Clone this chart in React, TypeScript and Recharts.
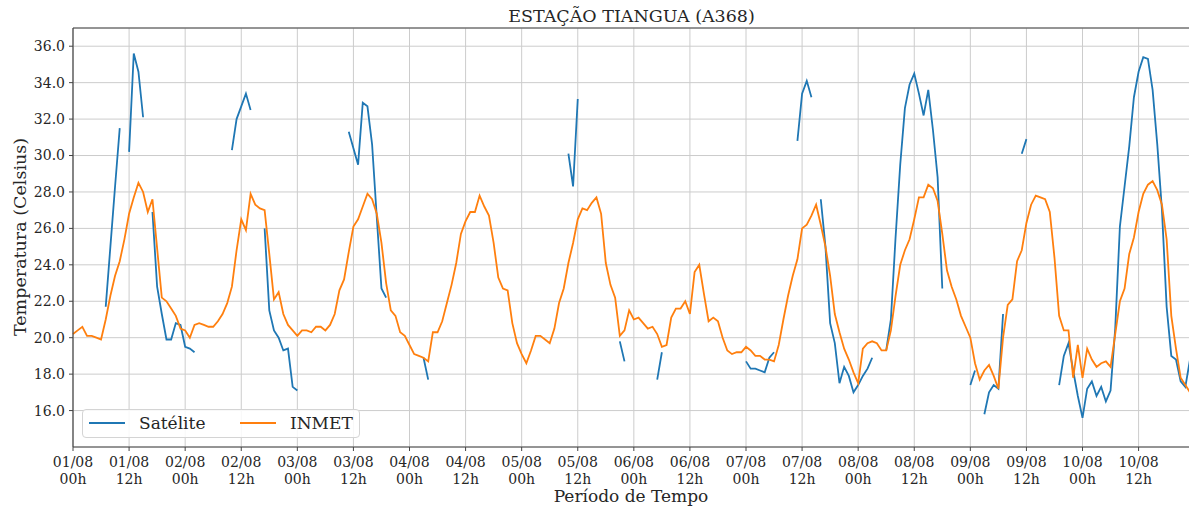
import React from 'react';
import { LineChart, Line, XAxis, YAxis, CartesianGrid } from 'recharts';

// Hourly index from 01/08 00h to 10/08 23h
const horas = Array.from({ length: 240 }, (_, i) => i);

// Satellite estimate (°C), null where there is no retrieval
const satelite = [
  null, null, null, null, null, null, null, 21.7, 25.0, 28.3, 31.5, null,
  30.2, 35.6, 34.6, 32.1, null, 26.9, 22.8, 21.3, 19.9, 19.9, 20.8, 20.7,
  19.5, 19.4, 19.2, null, null, null, null, null, null, null, 30.3, 32.0,
  32.7, 33.4, 32.5, null, null, 26.0, 21.5, 20.4, 20.0, 19.3, 19.4, 17.3,
  17.1, null, null, null, null, null, null, null, null, null, null, 31.3,
  30.4, 29.5, 32.9, 32.7, 30.6, 26.6, 22.7, 22.2, null, null, null, null,
  null, null, null, 18.9, 17.7, null, null, null, null, null, null, null,
  null, null, null, null, null, null, null, null, null, null, null, null,
  null, null, null, null, null, null, null, null, null, null, 30.1, 28.3,
  33.1, null, null, null, null, null, null, null, null, 19.8, 18.7, null,
  null, null, null, null, null, 17.7, 19.2, null, null, null, null, null,
  null, null, null, null, null, null, null, null, null, null, null, null,
  18.7, 18.3, 18.3, 18.2, 18.1, 18.9, 19.2, null, null, null, null, 30.8,
  33.4, 34.1, 33.2, null, 27.6, 25.0, 20.8, 19.7, 17.5, 18.4, 17.9, 17.0,
  17.4, 17.9, 18.3, 18.9, null, null, 19.3, 21.0, 25.5, 29.5, 32.6, 33.9,
  34.5, 33.4, 32.2, 33.6, 31.4, 28.8, 22.7, null, null, null, null, null,
  17.4, 18.2, null, 15.8, 17.0, 17.4, 17.2, 21.3, null, null, null, 30.1,
  30.9, null, null, null, null, null, null, 17.4, 19.0, 19.7, 18.2, 16.8,
  15.6, 17.2, 17.6, 16.8, 17.3, 16.5, 17.1, 20.5, 26.1, 28.3, 30.5, 33.2,
  34.6, 35.4, 35.3, 33.6, 30.6, 27.0, 21.7, 19.0, 18.8, 17.6, 17.3, 18.8,
];

// INMET station readings (°C)
const inmet = [
  20.2, 20.4, 20.6, 20.1, 20.1, 20.0, 19.9, 21.0, 22.3, 23.4, 24.2, 25.4,
  26.8, 27.7, 28.5, 28.0, 26.9, 27.6, 24.9, 22.2, 22.0, 21.6, 21.2, 20.5,
  20.4, 20.0, 20.7, 20.8, 20.7, 20.6, 20.6, 20.9, 21.3, 21.9, 22.8, 24.8,
  26.5, 25.9, 27.9, 27.3, 27.1, 27.0, 24.6, 22.1, 22.5, 21.3, 20.7, 20.4,
  20.1, 20.4, 20.4, 20.3, 20.6, 20.6, 20.4, 20.7, 21.3, 22.6, 23.2, 24.7,
  26.1, 26.5, 27.2, 27.9, 27.6, 26.8, 25.2, 23.0, 21.5, 21.2, 20.3, 20.1,
  19.6, 19.1, 19.0, 18.9, 18.7, 20.3, 20.3, 20.9, 21.9, 22.9, 24.1, 25.7,
  26.4, 26.9, 26.9, 27.8, 27.2, 26.7, 25.2, 23.3, 22.7, 22.6, 20.8, 19.7,
  19.1, 18.6, 19.3, 20.1, 20.1, 19.9, 19.7, 20.5, 21.9, 22.7, 24.1, 25.2,
  26.5, 27.1, 27.0, 27.4, 27.7, 26.8, 24.1, 22.9, 22.2, 20.1, 20.4, 21.5,
  21.0, 21.1, 20.8, 20.5, 20.6, 20.2, 19.5, 19.6, 21.1, 21.6, 21.6, 22.0,
  21.3, 23.6, 24.0, 22.4, 20.9, 21.1, 20.9, 20.0, 19.3, 19.1, 19.2, 19.2,
  19.5, 19.3, 19.0, 19.0, 18.8, 18.8, 18.7, 19.6, 21.0, 22.3, 23.4, 24.3,
  26.0, 26.2, 26.7, 27.3, 26.2, 25.0, 23.4, 21.3, 20.3, 19.4, 18.8, 18.1,
  17.5, 19.4, 19.7, 19.8, 19.7, 19.3, 19.3, 20.4, 22.3, 24.0, 24.8, 25.4,
  26.5, 27.7, 27.7, 28.4, 28.2, 27.5, 25.7, 23.7, 22.8, 22.1, 21.2, 20.6,
  20.0, 18.6, 17.7, 18.2, 18.5, 17.9, 17.2, 20.0, 21.8, 22.1, 24.2, 24.8,
  26.3, 27.3, 27.8, 27.7, 27.6, 26.9, 24.4, 21.2, 20.4, 20.4, 17.8, 19.6,
  17.8, 19.4, 18.8, 18.4, 18.6, 18.7, 18.4, 20.2, 22.0, 22.7, 24.6, 25.5,
  26.9, 27.9, 28.4, 28.6, 28.1, 27.3, 25.4, 21.2, 19.4, 17.8, 17.4, 17.0,
];

// Labelled ticks every 12 hours
const ticksMaiores = [0, 12, 24, 36, 48, 60, 72, 84, 96, 108, 120, 132, 144, 156, 168, 180, 192, 204, 216, 228];
const rotulosDia = [
  '01/08', '01/08', '02/08', '02/08', '03/08', '03/08', '04/08', '04/08', '05/08', '05/08',
  '06/08', '06/08', '07/08', '07/08', '08/08', '08/08', '09/08', '09/08', '10/08', '10/08',
];
const rotulosHora = [
  '00h', '12h', '00h', '12h', '00h', '12h', '00h', '12h', '00h', '12h',
  '00h', '12h', '00h', '12h', '00h', '12h', '00h', '12h', '00h', '12h',
];
const ticksMenores = horas.filter((h) => h % 4 === 0 && h % 12 !== 0);
const ticksY = [16, 18, 20, 22, 24, 26, 28, 30, 32, 34, 36];

const dados = horas.map((h, i) => ({ hora: h, satelite: satelite[i], inmet: inmet[i] }));

const COR_TEXTO = '#262626';
const COR_EIXO = '#444444';
const FONTE = '"DejaVu Serif", serif';

// two-line date/hour label under each 12h tick
const TickData = ({ x, y, payload }: any) => {
  const idx = ticksMaiores.indexOf(payload.value);
  return (
    <text x={x} y={y} textAnchor="middle" fontSize={14} fill={COR_TEXTO} fontFamily={FONTE}>
      <tspan x={x} dy={13.5}>{rotulosDia[idx]}</tspan>
      <tspan x={x} dy={17}>{rotulosHora[idx]}</tspan>
    </text>
  );
};

export default function App() {
  return (
    <div
      style={{
        position: 'absolute',
        left: 0,
        top: 0,
        width: 1189,
        height: 511,
        overflow: 'hidden',
        background: '#fff',
        fontFamily: FONTE,
        color: COR_TEXTO,
      }}
    >
      <div
        style={{
          position: 'absolute',
          left: 73,
          width: 1117,
          top: 5,
          lineHeight: '22px',
          fontSize: 17.5,
          textAlign: 'center',
        }}
      >
        ESTAÇÃO TIANGUA (A368)
      </div>

      <LineChart width={1200} height={511} data={dados} margin={{ top: 27, right: 10, bottom: 62, left: 0 }}>
        <CartesianGrid stroke="#cccccc" strokeWidth={1} />
        <XAxis
          dataKey="hora"
          type="number"
          domain={[0, 239]}
          ticks={ticksMaiores}
          interval={0}
          height={1}
          tickSize={4}
          tick={<TickData />}
          stroke={COR_EIXO}
          axisLine={{ stroke: COR_EIXO, strokeWidth: 1.2 }}
        />
        <XAxis
          xAxisId="menor"
          dataKey="hora"
          type="number"
          domain={[0, 239]}
          ticks={ticksMenores}
          interval={0}
          height={1}
          tickSize={2.5}
          tick={false}
          axisLine={false}
          tickLine={{ stroke: COR_EIXO }}
        />
        <XAxis
          xAxisId="topo"
          orientation="top"
          dataKey="hora"
          type="number"
          domain={[0, 239]}
          height={1}
          tick={false}
          tickLine={false}
          axisLine={{ stroke: COR_EIXO, strokeWidth: 1.2 }}
        />
        <YAxis
          type="number"
          domain={[14, 37]}
          ticks={ticksY}
          interval={0}
          allowDataOverflow
          width={73}
          tickSize={4}
          tickMargin={4}
          tickFormatter={(v: number) => v.toFixed(1)}
          tick={{ fontSize: 14, fill: COR_TEXTO, fontFamily: FONTE }}
          stroke={COR_EIXO}
          axisLine={{ stroke: COR_EIXO, strokeWidth: 1.2 }}
        />
        <Line
          type="linear"
          dataKey="satelite"
          name="Satélite"
          stroke="#1f77b4"
          strokeWidth={1.8}
          dot={false}
          isAnimationActive={false}
        />
        <Line
          type="linear"
          dataKey="inmet"
          name="INMET"
          stroke="#ff7f0e"
          strokeWidth={1.8}
          dot={false}
          isAnimationActive={false}
        />
      </LineChart>

      <div
        style={{
          position: 'absolute',
          left: 20,
          top: 237,
          transform: 'translate(-50%, -50%) rotate(-90deg)',
          fontSize: 17.5,
          whiteSpace: 'nowrap',
        }}
      >
        Temperatura (Celsius)
      </div>
      <div
        style={{
          position: 'absolute',
          left: 631,
          top: 496,
          transform: 'translate(-50%, -50%)',
          fontSize: 17,
          whiteSpace: 'nowrap',
        }}
      >
        Período de Tempo
      </div>

      {/* legenda */}
      <div
        style={{
          position: 'absolute',
          left: 82,
          top: 409,
          width: 278,
          height: 29,
          boxSizing: 'border-box',
          border: '1px solid #d4d4d4',
          borderRadius: 4,
          background: 'rgba(255,255,255,0.85)',
          fontSize: 17,
        }}
      >
        <div style={{ position: 'absolute', left: 6, top: 12, width: 36, height: 2, background: '#1f77b4' }} />
        <div style={{ position: 'absolute', left: 56, top: 0, lineHeight: '27px' }}>Satélite</div>
        <div style={{ position: 'absolute', left: 157, top: 12, width: 36, height: 2, background: '#ff7f0e' }} />
        <div style={{ position: 'absolute', left: 207, top: 0, lineHeight: '27px' }}>INMET</div>
      </div>
    </div>
  );
}
